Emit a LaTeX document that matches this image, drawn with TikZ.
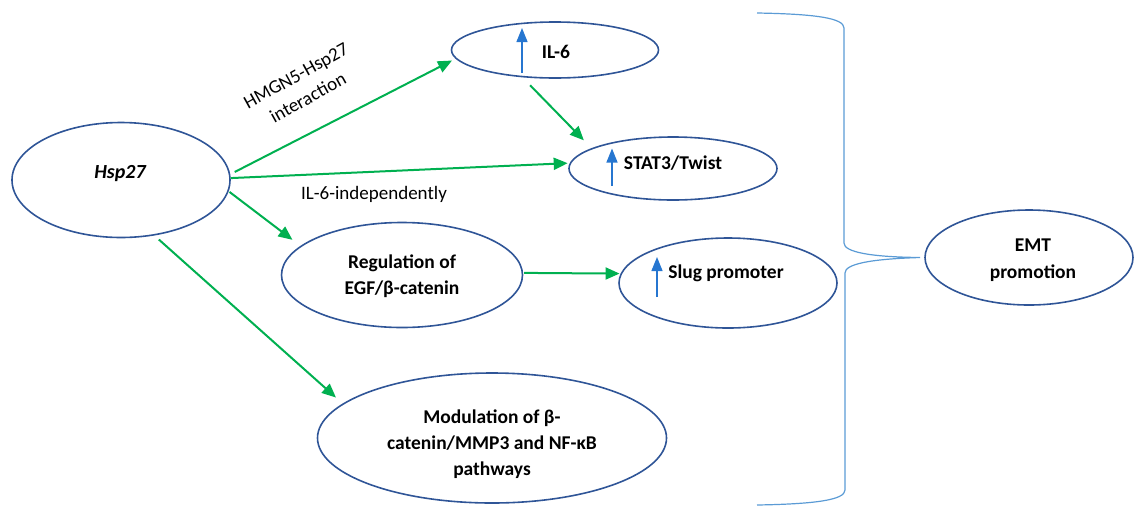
\documentclass[tikz,border=0pt]{standalone}
\usepackage{fontspec}
\setmainfont{Carlito}
\usetikzlibrary{shapes.geometric,arrows.meta,calc}
\definecolor{ellblue}{RGB}{47,85,151}
\definecolor{arrgreen}{RGB}{0,176,80}
\definecolor{bracecol}{RGB}{91,155,213}
\definecolor{upblue}{RGB}{38,118,208}
\tikzset{
  ell/.style={ellipse, draw=ellblue, line width=1.6pt, inner sep=0pt},
  txt/.style={font=\fontsize{19.5}{26.5}\selectfont\bfseries, align=center, inner sep=0pt},
  lbl/.style={font=\fontsize{19}{25}\selectfont, align=center, inner sep=0pt},
  grn/.style={draw=arrgreen, line width=2pt, -{Triangle[length=14pt,width=12pt]}},
  uparr/.style={draw=upblue, line width=1.3pt, -{Triangle[length=14pt,width=11pt]}},
  bracestyle/.style={draw=bracecol, line width=1.2pt}
}
\begin{document}
\begin{tikzpicture}[x=1pt,y=-1pt]
\useasboundingbox (0,0) rectangle (1135,507);
% ellipses
\node[ell, minimum width=218pt, minimum height=115pt] (hsp) at (121,180) {};
\node[ell, minimum width=207pt, minimum height=56pt] (il6) at (555,50) {};
\node[ell, minimum width=208pt, minimum height=63pt] (stat) at (673,168.5) {};
\node[ell, minimum width=241pt, minimum height=105pt] (reg) at (402,275) {};
\node[ell, minimum width=218pt, minimum height=90pt] (slug) at (728,283) {};
\node[ell, minimum width=349pt, minimum height=130pt] (mod) at (492,438) {};
\node[ell, minimum width=208pt, minimum height=95pt] (emt) at (1029,257.5) {};
% texts
\node[txt, font=\fontsize{20}{26}\selectfont\bfseries\itshape] (hspt) at (120,174) {Hsp27};
\node[txt] (il6t) at (556,52) {IL-6};
\node[txt] (statt) at (673,163) {STAT3/Twist};
\node[txt] (slugt) at (726,273) {Slug promoter};
\node[txt] (regt) at (402,276) {Regulation of\\EGF/β-catenin};
\node[txt, font=\fontsize{19.5}{26}\selectfont\bfseries] (modt) at (492,444) {Modulation of β-\\catenin/MMP3 and NF-κB\\pathways};
\node[txt] (emtt) at (1033,260) {EMT\\promotion};
% labels
\node[lbl, rotate=29] (lab1) at (302,87) {HMGN5-Hsp27\\interaction};
\node[lbl] (lab2) at (374,194) {IL-6-independently};
% up arrows
\draw[uparr] ($(il6.center)+(-33,23)$) -- ++(0,-45);
\draw[uparr] ($(stat.center)+(-61,17)$) -- ++(0,-37);
\draw[uparr] ($(slug.center)+(-71,14)$) -- ++(0,-40);
% green connectors
\draw[grn, shorten <=5pt, shorten >=4pt] (hsp.3) -- (il6.185);
\draw[grn, shorten >=2pt] (hsp.1.5) -- (stat.177);
\draw[grn, shorten <=11pt, shorten >=11pt] (il6.220) -- (stat.166);
\draw[grn, shorten <=1pt, shorten >=10pt] (hsp.-6) -- (reg.164);
\draw[grn, shorten <=6pt, shorten >=9pt] (hsp.-59) -- (mod.167);
\draw[grn, shorten <=1pt, shorten >=1pt] (reg.1) -- (slug.175);
% brace
\coordinate (tip) at ($(emt.west)+(-4,0)$);
\draw[bracestyle] (757,13) .. controls (815,14) and (844,18) .. (844,28)
  -- (844,243) .. controls (844,252) and (870,257) .. (tip)
  .. controls (870,259) and (845,264) .. (845,273)
  -- (845,490) .. controls (845,500) and (815,504) .. (757,505);
\end{tikzpicture}
\end{document}
